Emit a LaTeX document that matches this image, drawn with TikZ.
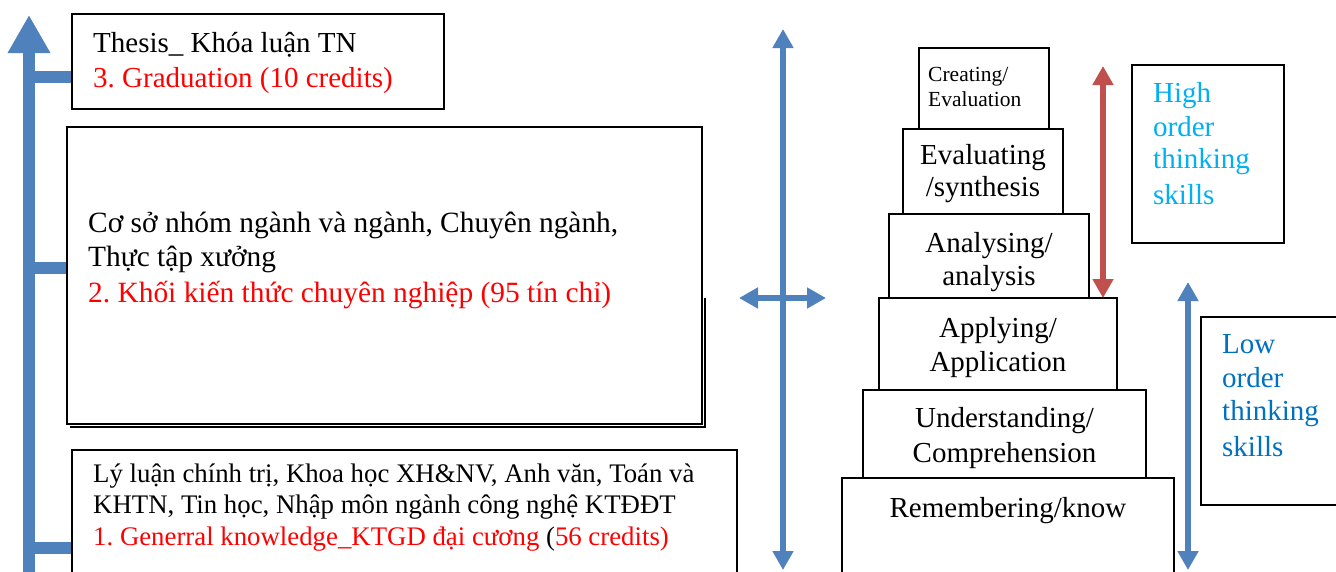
\documentclass[tikz,border=0pt]{standalone}
\usepackage{fontspec}
\setmainfont{Liberation Serif}
\usetikzlibrary{arrows.meta}
\definecolor{flowblue}{RGB}{79,129,189}
\definecolor{flowred}{RGB}{192,80,77}
\definecolor{highcyan}{RGB}{0,176,240}
\definecolor{lowblue}{RGB}{0,112,192}
\definecolor{credred}{RGB}{255,0,0}
\frenchspacing
\begin{document}
\begin{tikzpicture}[x=1pt,y=-1pt,
  box/.style={draw=black,line width=1.8pt,fill=white,inner sep=0pt},
  step box/.style={draw=black,line width=1.8pt,inner sep=0pt},
  line/.style={anchor=base west,inner sep=0pt,font=\fontsize{29}{35}\selectfont},
  smallline/.style={line,font=\fontsize{26.8}{31}\selectfont},
  midline/.style={anchor=base,inner sep=0pt,font=\fontsize{29}{35}\selectfont},
  trunk/.style={draw=flowblue,line width=12pt,-{Triangle[width=40pt,length=38pt]}},
  branch/.style={draw=flowblue,line width=12pt},
  twoway/.style={line width=6.5pt,{Triangle[width=20pt,length=19pt]}-{Triangle[width=20pt,length=19pt]}},
  hiword/.style={line,text=highcyan},
  loword/.style={line,text=lowblue}]
\useasboundingbox (0,0) rectangle (1336,571);
\fill[white] (0,0) rectangle (1336,571);

% curriculum trunk with its three branches
\coordinate (trunkfoot) at (29,580);
\coordinate (trunktip) at (29,15);
\coordinate (j3) at (29,76.5);
\coordinate (j2) at (29,268);
\coordinate (j1) at (29,548);
\draw[trunk] (trunkfoot) -- (trunktip);

% curriculum blocks
\node[box,minimum width=372pt,minimum height=95pt] (thesis) at (258,61.5) {};
\draw[line width=2.2pt] (705,298) -- (705,427) -- (70,427);
\node[box,minimum width=635pt,minimum height=297pt] (major) at (384.5,275.5) {};
\node[box,minimum width=665pt,minimum height=135pt] (general) at (404.5,517.5) {};

\draw[branch] (j3) -- (j3 -| thesis.west);
\draw[branch] (j2) -- (j2 -| major.west);
\draw[branch] (j1) -- (j1 -| general.west);

\node[line] (t3a) at (93,52) {Thesis\_ Khóa luận TN};
\node[line,text=credred] (t3b) at (93,87) {3. Graduation (10 credits)};

\node[line,font=\fontsize{29.4}{35}\selectfont] (t2a) at (88,232) {Cơ sở nhóm ngành và ngành, Chuyên ngành,};
\node[line,font=\fontsize{29.4}{35}\selectfont] (t2b) at (88,266) {Thực tập xưởng};
\node[line,font=\fontsize{29.4}{35}\selectfont,text=credred] (t2c) at (88,302) {2. Khối kiến thức chuyên nghiệp (95 tín chỉ)};

\node[smallline] (t1a) at (93,482) {Lý luận chính trị, Khoa học XH\&NV, Anh văn, Toán và};
\node[smallline] (t1b) at (93,513) {KHTN, Tin học, Nhập môn ngành công nghệ KTĐĐT};
\node[smallline] (t1c) at (93,545) {\textcolor{credred}{1. Generral knowledge\_KTGD đại cương }(\textcolor{credred}{56 credits)}};

% central two-way arrows
\coordinate (vtop) at (783,29);
\coordinate (vbot) at (783,570);
\coordinate (hleft) at (739,298);
\coordinate (hright) at (826,298);
\draw[twoway,flowblue] (vbot) -- (vtop);
\draw[twoway,flowblue] (hleft) -- (hright);

% thinking-skills pyramid
\node[step box,minimum width=130pt,minimum height=81pt] (create) at (984,88.5) {};
\node[step box,minimum width=160pt,minimum height=85pt] (evaluate) at (983,171.5) {};
\node[step box,minimum width=200pt,minimum height=84pt] (analyse) at (989,256) {};
\node[step box,minimum width=238pt,minimum height=92pt] (apply) at (998,344) {};
\node[step box,minimum width=283pt,minimum height=88pt] (understand) at (1004.5,434) {};
\node[step box,minimum width=332pt,minimum height=110pt] (remember) at (1008,533) {};

\node[line,font=\fontsize{21.5}{25}\selectfont] (c1) at (928,81) {Creating/};
\node[line,font=\fontsize{21.5}{25}\selectfont] (c2) at (928,106) {Evaluation};
\node[midline] (e1) at (983,164) {Evaluating};
\node[midline] (e2) at (983,196) {/synthesis};
\node[midline] (a1) at (989,252) {Analysing/};
\node[midline] (a2) at (989,285) {analysis};
\node[midline] (p1) at (998,337) {Applying/};
\node[midline] (p2) at (998,371) {Application};
\node[midline] (u1) at (1004.5,427) {Understanding/};
\node[midline] (u2) at (1004.5,462) {Comprehension};
\node[midline] (r1) at (1008,517) {Remembering/know};

% order-of-thinking markers
\coordinate (redtop) at (1103,66);
\coordinate (redbot) at (1103,298);
\draw[twoway,flowred] (redbot) -- (redtop);
\coordinate (bluetop) at (1188,282);
\coordinate (bluebot) at (1188,570);
\draw[twoway,flowblue] (bluebot) -- (bluetop);

\node[box,minimum width=152pt,minimum height=178pt] (high) at (1208,154) {};
\node[hiword] (h1) at (1153,102) {High};
\node[hiword] (h2) at (1153,136) {order};
\node[hiword] (h3) at (1153,168) {thinking};
\node[hiword] (h4) at (1153,204) {skills};

\node[box,minimum width=150pt,minimum height=188pt] (low) at (1276,411) {};
\node[loword] (l1) at (1222,353) {Low};
\node[loword] (l2) at (1222,387) {order};
\node[loword] (l3) at (1222,420) {thinking};
\node[loword] (l4) at (1222,456) {skills};
\end{tikzpicture}
\end{document}
